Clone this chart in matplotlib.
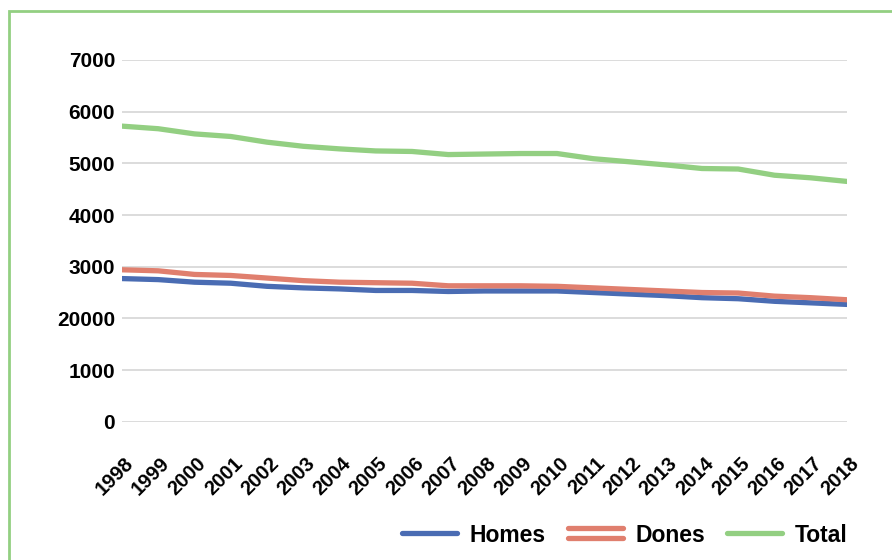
import matplotlib
matplotlib.use("Agg")
import matplotlib.pyplot as plt
import matplotlib.transforms as mtransforms
from matplotlib.lines import Line2D
from matplotlib.patches import Rectangle
from matplotlib.legend_handler import HandlerBase

plt.rcParams['font.family'] = ['Liberation Sans', 'DejaVu Sans']
plt.rcParams['font.weight'] = 'bold'

# data
years = [str(y) for y in range(1998, 2019)]
homes = [2770, 2750, 2700, 2680, 2620, 2590, 2570, 2540, 2540, 2520, 2530,
         2530, 2530, 2500, 2470, 2440, 2400, 2380, 2330, 2300, 2270]
dones = [2940, 2920, 2850, 2830, 2780, 2730, 2700, 2690, 2680, 2630, 2630,
         2630, 2620, 2590, 2560, 2530, 2500, 2490, 2430, 2400, 2360]
total = [5720, 5670, 5570, 5520, 5410, 5330, 5280, 5240, 5230, 5170, 5180,
         5190, 5190, 5090, 5030, 4970, 4900, 4890, 4770, 4720, 4650]
ytick_vals = [0, 1000, 2000, 3000, 4000, 5000, 6000, 7000]
ytick_labels = ['0', '1000', '20000', '3000', '4000', '5000', '6000', '7000']

c_homes = '#4a6cb3'
c_dones = '#e07f6e'
c_total = '#93cf82'


class DoubleLine(HandlerBase):
    # the reference legend shows "Dones" as two stacked strokes
    def create_artists(self, legend, orig_handle, xdescent, ydescent,
                       width, height, fontsize, trans):
        arts = []
        for f in (0.2, 0.85):
            y = -ydescent + height * f
            l = Line2D([-xdescent, -xdescent + width], [y, y],
                       color=orig_handle.get_color(), lw=orig_handle.get_linewidth(),
                       solid_capstyle='round', transform=trans)
            arts.append(l)
        return arts


fig = plt.figure(figsize=(8.92, 5.6), dpi=100)
ax = fig.add_axes([122 / 892, 1 - 421.7 / 560, (847 - 122) / 892, (421.7 - 60) / 560])

x = range(len(years))
lh, = ax.plot(x, homes, color=c_homes, lw=3.8, solid_capstyle='round', label='Homes')
ld, = ax.plot(x, dones, color=c_dones, lw=3.8, solid_capstyle='round', label='Dones')
lt, = ax.plot(x, total, color=c_total, lw=3.8, solid_capstyle='round', label='Total')

ax.set_xlim(0, len(years) - 1)
ax.set_ylim(0, 7000)
ax.set_yticks(ytick_vals)
ax.set_yticklabels(ytick_labels, fontsize=15, fontweight='bold')
ax.set_xticks(list(x))
ax.set_xticklabels(years, rotation=45, ha='right', rotation_mode='anchor',
                   fontsize=14.5, fontweight='bold')
ax.tick_params(axis='both', length=0)
ax.tick_params(axis='y', pad=5)
ax.tick_params(axis='x', pad=23)
shift = mtransforms.ScaledTranslation(2 / 100, 0, fig.dpi_scale_trans)
for lbl in ax.get_xticklabels():
    lbl.set_transform(lbl.get_transform() + shift)
ax.grid(axis='y', color='#d9d9d9', lw=1.3)
ax.set_axisbelow(True)
for s in ax.spines.values():
    s.set_visible(False)

fig.legend(handles=[lh, ld, lt], loc='center right', ncol=3, frameon=False,
           bbox_to_anchor=(868 / 892, 1 - 535 / 560),
           prop={'size': 16.5, 'weight': 'bold'},
           handlelength=2.4, handletextpad=0.55, columnspacing=0.95,
           handler_map={ld: DoubleLine()})

# green frame around the chart (cut off at right and bottom)
fig.patches.append(Rectangle((9 / 892, -0.5), 2, 1 - 11 / 560 + 0.5,
                             transform=fig.transFigure, fill=False,
                             edgecolor=c_total, lw=2, clip_on=False))

fig.savefig('out.png', dpi=100)
